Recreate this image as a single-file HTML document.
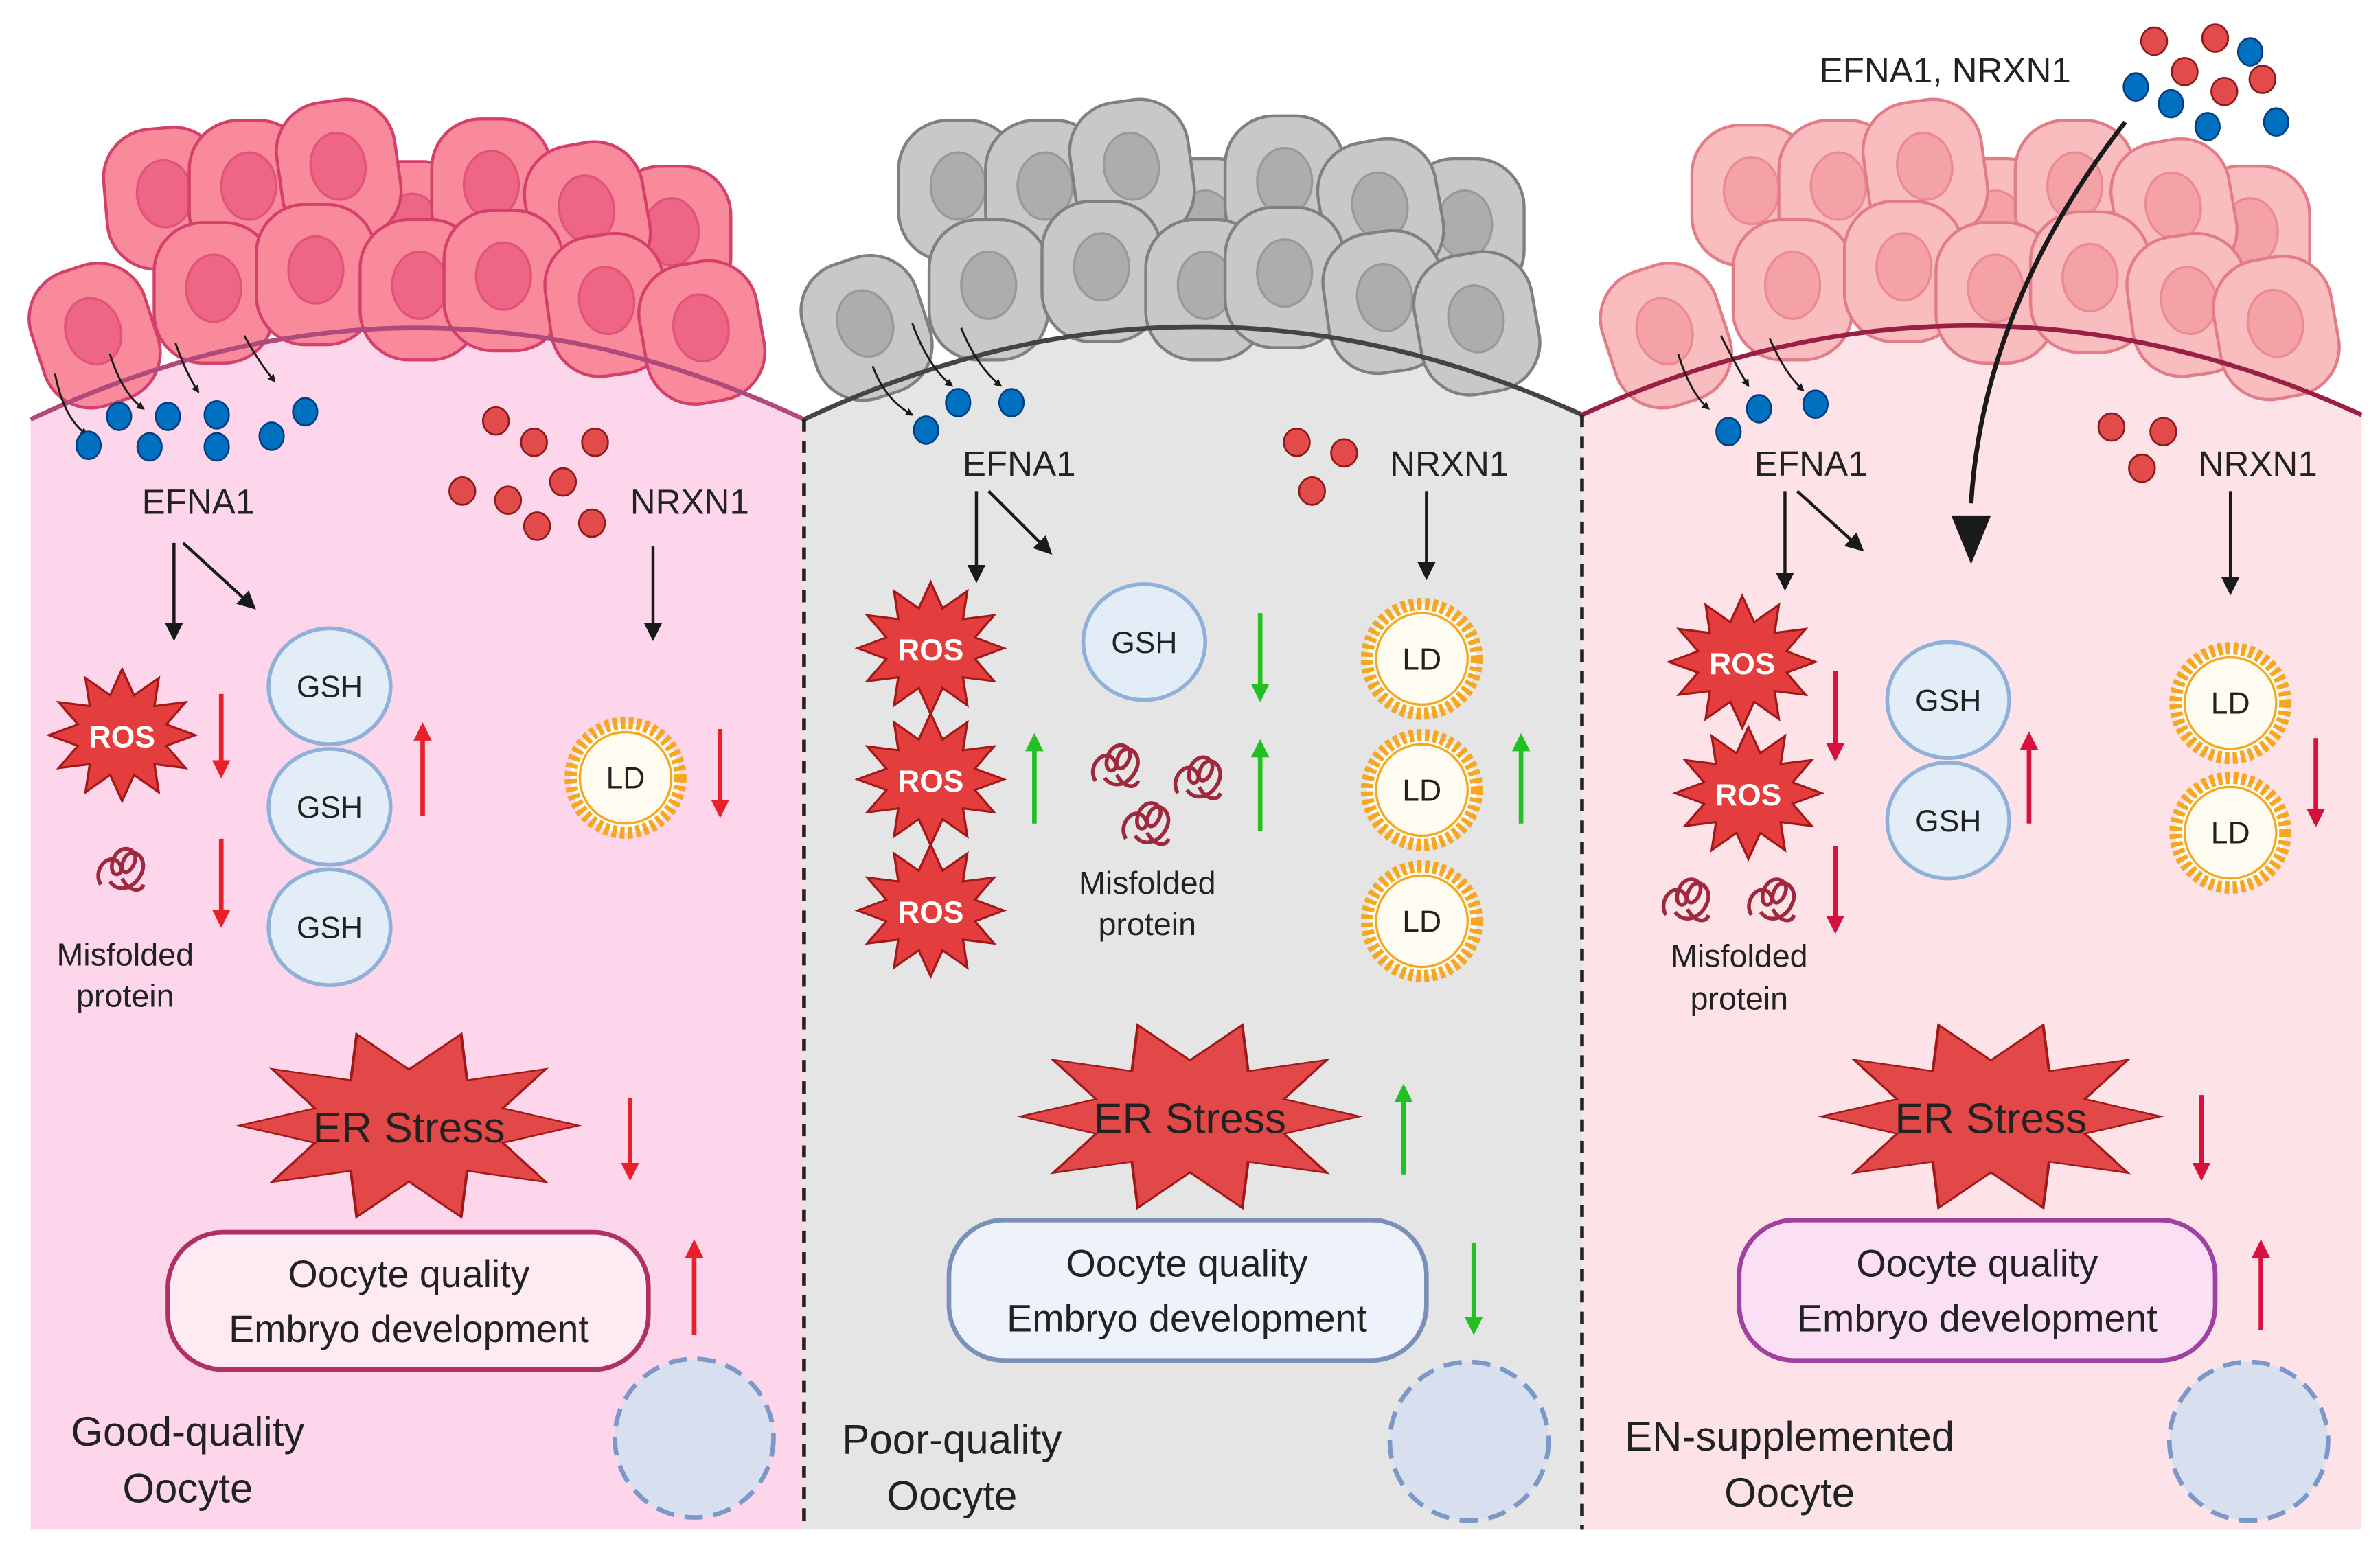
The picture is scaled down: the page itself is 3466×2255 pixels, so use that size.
<!DOCTYPE html>
<html><head><meta charset="utf-8"><style>
html,body{margin:0;padding:0;background:#fff}
svg{display:block}
text{font-family:"Liberation Sans",sans-serif;fill:#222}
</style></head><body>
<svg width="3466" height="2255" viewBox="0 0 1560 1015" xmlns="http://www.w3.org/2000/svg">
<defs>
<marker id="mk" viewBox="0 0 10 10" refX="8" refY="5" markerWidth="4" markerHeight="4" orient="auto"><path d="M0,0L10,5L0,10z" fill="#1a1a1a"/></marker>
<marker id="mks" viewBox="0 0 10 10" refX="8" refY="5" markerWidth="6" markerHeight="6" orient="auto"><path d="M0,0L10,5L0,10z" fill="#1a1a1a"/></marker>
<marker id="mr" viewBox="0 0 10 10" refX="8" refY="5" markerWidth="4" markerHeight="4" orient="auto"><path d="M0,0L10,5L0,10z" fill="#e8202a"/></marker>
<marker id="mg" viewBox="0 0 10 10" refX="8" refY="5" markerWidth="4" markerHeight="4" orient="auto"><path d="M0,0L10,5L0,10z" fill="#22c022"/></marker>
<marker id="md" viewBox="0 0 10 10" refX="8" refY="5" markerWidth="4" markerHeight="4" orient="auto"><path d="M0,0L10,5L0,10z" fill="#d8103e"/></marker>
<symbol id="cell" overflow="visible"><rect x="-39" y="-46" width="78" height="92" rx="32" stroke-width="2"/><ellipse cx="0" cy="-3" rx="18" ry="22" style="fill:var(--n);stroke:var(--ns)" stroke-width="1.5"/></symbol>
<symbol id="ros" overflow="visible"><polygon transform="scale(1,0.9)" points="48,0 29,7.8 41.6,24 21.2,21.2 24,41.6 7.8,29 0,48 -7.8,29 -24,41.6 -21.2,21.2 -41.6,24 -29,7.8 -48,0 -29,-7.8 -41.6,-24 -21.2,-21.2 -24,-41.6 -7.8,-29 0,-48 7.8,-29 24,-41.6 21.2,-21.2 41.6,-24 29,-7.8" fill="#e43d3d" stroke="#a01818" stroke-width="1.5"/></symbol>
<symbol id="er" overflow="visible"><polygon transform="scale(1.85,1.05)" points="60,0 33.3,10.8 48.5,35.3 20.6,28.3 18.5,57.1 0,35 -18.5,57.1 -20.6,28.3 -48.5,35.3 -33.3,10.8 -60,0 -33.3,-10.8 -48.5,-35.3 -20.6,-28.3 -18.5,-57.1 0,-35 18.5,-57.1 20.6,-28.3 48.5,-35.3 33.3,-10.8" fill="#e24848" stroke="#a01818" stroke-width="1"/></symbol>
<symbol id="ld" overflow="visible"><circle r="36" fill="#fffdf2" stroke="#f5a623" stroke-width="8" stroke-dasharray="3 2.2"/><circle r="30" fill="none" stroke="#f5a623" stroke-width="1.5"/></symbol>
<symbol id="gsh" overflow="visible"><ellipse rx="40" ry="38" fill="#e3edf7" stroke="#8fb0d8" stroke-width="2.5"/></symbol>
<symbol id="mis" overflow="visible"><path d="M-14,10 C-20,0 -8,-12 -2,-4 C4,4 -10,8 -6,-6 C-2,-18 12,-14 8,-4 C4,6 -4,2 2,-8 C8,-16 18,-6 12,4 C8,12 -2,16 -8,8 M0,6 C4,14 12,16 14,10" fill="none" stroke="#a0283c" stroke-width="2.5"/></symbol>
<symbol id="bd" overflow="visible"><ellipse rx="8" ry="9" fill="#0070c0" stroke="#063d80" stroke-width="1.2"/></symbol>
<symbol id="rd" overflow="visible"><ellipse rx="8.5" ry="9" fill="#e34a4a" stroke="#8b1a1a" stroke-width="1.2"/></symbol>
</defs>

<path d="M20,275 Q273,155 527,275 L527,1003 L20,1003Z" fill="#fdd6ec"/>
<path d="M527,275 Q782,155 1037,272 L1037,1003 L527,1003Z" fill="#e5e5e5"/>
<path d="M1037,272 Q1292,155 1548,272 L1548,1003 L1037,1003Z" fill="#fde3e8"/>

<g style="fill:#f88a9c;stroke:#d5406a;--n:#ef6585;--ns:#e05478">
<use href="#cell" x="108" y="130" transform="rotate(-5 108 130)"/>
<use href="#cell" x="270" y="152"/>
<use href="#cell" x="440" y="155"/>
<use href="#cell" x="163" y="125"/>
<use href="#cell" x="222" y="112" transform="rotate(-8 222 112)"/>
<use href="#cell" x="322" y="124"/>
<use href="#cell" x="385" y="140" transform="rotate(-10 385 140)"/>
<use href="#cell" x="140" y="192"/>
<use href="#cell" x="207" y="180"/>
<use href="#cell" x="275" y="190"/>
<use href="#cell" x="330" y="184"/>
<use href="#cell" x="398" y="200" transform="rotate(-8 398 200)"/>
<use href="#cell" x="460" y="218" transform="rotate(-10 460 218)"/>
<use href="#cell" x="62" y="220" transform="rotate(-18 62 220)"/>
</g>
<g style="fill:#c8c8c8;stroke:#808080;--n:#adadad;--ns:#999">
<use href="#cell" x="628" y="125"/>
<use href="#cell" x="790" y="150"/>
<use href="#cell" x="960" y="150"/>
<use href="#cell" x="685" y="125"/>
<use href="#cell" x="742" y="112" transform="rotate(-8 742 112)"/>
<use href="#cell" x="842" y="122"/>
<use href="#cell" x="905" y="138" transform="rotate(-10 905 138)"/>
<use href="#cell" x="648" y="190"/>
<use href="#cell" x="722" y="178"/>
<use href="#cell" x="790" y="190"/>
<use href="#cell" x="842" y="182"/>
<use href="#cell" x="908" y="198" transform="rotate(-8 908 198)"/>
<use href="#cell" x="968" y="212" transform="rotate(-10 968 212)"/>
<use href="#cell" x="568" y="215" transform="rotate(-18 568 215)"/>
</g>
<g style="fill:#f9bcbf;stroke:#e27d88;--n:#f5a2a6;--ns:#ea8a92">
<use href="#cell" x="1148" y="128"/>
<use href="#cell" x="1308" y="150"/>
<use href="#cell" x="1475" y="155"/>
<use href="#cell" x="1205" y="125"/>
<use href="#cell" x="1262" y="112" transform="rotate(-8 1262 112)"/>
<use href="#cell" x="1360" y="125"/>
<use href="#cell" x="1425" y="138" transform="rotate(-10 1425 138)"/>
<use href="#cell" x="1175" y="190"/>
<use href="#cell" x="1248" y="178"/>
<use href="#cell" x="1308" y="192"/>
<use href="#cell" x="1370" y="185"/>
<use href="#cell" x="1435" y="200" transform="rotate(-8 1435 200)"/>
<use href="#cell" x="1492" y="215" transform="rotate(-10 1492 215)"/>
<use href="#cell" x="1092" y="220" transform="rotate(-18 1092 220)"/>
</g>

<path d="M20,275 Q273,155 527,275" fill="none" stroke="#b04a7a" stroke-width="3"/>
<path d="M527,275 Q782,155 1037,272" fill="none" stroke="#444" stroke-width="3"/>
<path d="M1037,272 Q1292,155 1548,272" fill="none" stroke="#9a1f45" stroke-width="3"/>
<line x1="527" y1="275" x2="527" y2="1003" stroke="#222" stroke-width="2.5" stroke-dasharray="8 6"/>
<line x1="1037" y1="272" x2="1037" y2="1003" stroke="#222" stroke-width="2.5" stroke-dasharray="8 6"/>

<g fill="none" stroke="#1a1a1a" stroke-width="1.3" marker-end="url(#mk)">
<path d="M36,245 Q42,275 57,285"/><path d="M72,232 Q80,258 94,268"/><path d="M115,225 Q122,245 130,257"/><path d="M160,220 Q170,238 180,250"/>
</g>
<use href="#bd" x="58" y="292"/><use href="#bd" x="78" y="273"/><use href="#bd" x="98" y="293"/><use href="#bd" x="110" y="273"/><use href="#bd" x="142" y="272"/><use href="#bd" x="142" y="293"/><use href="#bd" x="178" y="286"/><use href="#bd" x="200" y="270"/>
<use href="#rd" x="325" y="276"/><use href="#rd" x="350" y="290"/><use href="#rd" x="390" y="290"/><use href="#rd" x="303" y="322"/><use href="#rd" x="333" y="328"/><use href="#rd" x="369" y="316"/><use href="#rd" x="352" y="345"/><use href="#rd" x="388" y="343"/>
<text x="130" y="337" font-size="23" text-anchor="middle">EFNA1</text>
<text x="452" y="337" font-size="23" text-anchor="middle">NRXN1</text>
<g stroke="#1a1a1a" stroke-width="2" marker-end="url(#mks)">
<line x1="114" y1="356" x2="114" y2="418"/><line x1="120" y1="356" x2="166" y2="398"/><line x1="428" y1="358" x2="428" y2="418"/>
</g>
<use href="#ros" x="80" y="482"/><text x="80" y="490" font-size="20" font-weight="bold" text-anchor="middle" style="fill:#fff">ROS</text>
<use href="#gsh" x="216" y="450"/><use href="#gsh" x="216" y="529"/><use href="#gsh" x="216" y="608"/>
<text x="216" y="457" font-size="20" text-anchor="middle">GSH</text><text x="216" y="536" font-size="20" text-anchor="middle">GSH</text><text x="216" y="615" font-size="20" text-anchor="middle">GSH</text>
<use href="#ld" x="410" y="510"/><text x="410" y="517" font-size="20" text-anchor="middle">LD</text>
<use href="#mis" x="80" y="570"/>
<text x="82" y="633" font-size="21" text-anchor="middle">Misfolded</text><text x="82" y="660" font-size="21" text-anchor="middle">protein</text>
<g stroke="#e8202a" stroke-width="3" marker-end="url(#mr)">
<line x1="145" y1="455" x2="145" y2="508"/><line x1="277" y1="535" x2="277" y2="476"/><line x1="472" y1="478" x2="472" y2="534"/><line x1="145" y1="550" x2="145" y2="606"/><line x1="413" y1="720" x2="413" y2="772"/><line x1="455" y1="875" x2="455" y2="815"/>
</g>
<use href="#er" x="268" y="738"/><text x="268" y="749" font-size="28" text-anchor="middle">ER Stress</text>
<rect x="110" y="808" width="315" height="90" rx="36" fill="#fdeaf3" stroke="#b03060" stroke-width="3"/>
<text x="268" y="844" font-size="25" text-anchor="middle">Oocyte quality</text><text x="268" y="880" font-size="25" text-anchor="middle">Embryo development</text>
<circle cx="455" cy="943" r="52" fill="#d8e0f0" stroke="#7b98c8" stroke-width="3" stroke-dasharray="12 7"/>
<text x="123" y="948" font-size="27" text-anchor="middle">Good-quality</text><text x="123" y="985" font-size="27" text-anchor="middle">Oocyte</text>

<g fill="none" stroke="#1a1a1a" stroke-width="1.3" marker-end="url(#mk)">
<path d="M572,240 Q580,262 598,272"/><path d="M598,212 Q608,240 624,253"/><path d="M630,215 Q640,240 656,253"/>
</g>
<use href="#bd" x="607" y="282"/><use href="#bd" x="628" y="264"/><use href="#bd" x="663" y="264"/>
<use href="#rd" x="850" y="290"/><use href="#rd" x="881" y="297"/><use href="#rd" x="860" y="322"/>
<text x="668" y="312" font-size="23" text-anchor="middle">EFNA1</text>
<text x="950" y="312" font-size="23" text-anchor="middle">NRXN1</text>
<g stroke="#1a1a1a" stroke-width="2" marker-end="url(#mks)">
<line x1="640" y1="322" x2="640" y2="380"/><line x1="648" y1="322" x2="688" y2="362"/><line x1="935" y1="322" x2="935" y2="378"/>
</g>
<use href="#ros" x="610" y="425"/><text x="610" y="433" font-size="20" font-weight="bold" text-anchor="middle" style="fill:#fff">ROS</text>
<use href="#ros" x="610" y="511"/><text x="610" y="519" font-size="20" font-weight="bold" text-anchor="middle" style="fill:#fff">ROS</text>
<use href="#ros" x="610" y="597"/><text x="610" y="605" font-size="20" font-weight="bold" text-anchor="middle" style="fill:#fff">ROS</text>
<use href="#gsh" x="750" y="421"/><text x="750" y="428" font-size="20" text-anchor="middle">GSH</text>
<use href="#mis" x="732" y="502"/><use href="#mis" x="786" y="510"/><use href="#mis" x="752" y="540"/>
<text x="752" y="586" font-size="21" text-anchor="middle">Misfolded</text><text x="752" y="613" font-size="21" text-anchor="middle">protein</text>
<use href="#ld" x="932" y="432"/><text x="932" y="439" font-size="20" text-anchor="middle">LD</text>
<use href="#ld" x="932" y="518"/><text x="932" y="525" font-size="20" text-anchor="middle">LD</text>
<use href="#ld" x="932" y="604"/><text x="932" y="611" font-size="20" text-anchor="middle">LD</text>
<g stroke="#22c022" stroke-width="3" marker-end="url(#mg)">
<line x1="678" y1="540" x2="678" y2="483"/><line x1="826" y1="402" x2="826" y2="458"/><line x1="826" y1="545" x2="826" y2="487"/><line x1="997" y1="540" x2="997" y2="483"/><line x1="920" y1="770" x2="920" y2="713"/><line x1="966" y1="815" x2="966" y2="873"/>
</g>
<use href="#er" x="780" y="732"/><text x="780" y="743" font-size="28" text-anchor="middle">ER Stress</text>
<rect x="622" y="800" width="313" height="92" rx="36" fill="#eef2fa" stroke="#7b90b8" stroke-width="3"/>
<text x="778" y="837" font-size="25" text-anchor="middle">Oocyte quality</text><text x="778" y="873" font-size="25" text-anchor="middle">Embryo development</text>
<circle cx="963" cy="945" r="52" fill="#d8e0f0" stroke="#7b98c8" stroke-width="3" stroke-dasharray="12 7"/>
<text x="624" y="953" font-size="27" text-anchor="middle">Poor-quality</text><text x="624" y="990" font-size="27" text-anchor="middle">Oocyte</text>

<text x="1275" y="54" font-size="23" text-anchor="middle">EFNA1, NRXN1</text>
<use href="#rd" x="1412" y="27"/><use href="#rd" x="1452" y="25"/><use href="#bd" x="1475" y="34"/><use href="#rd" x="1432" y="47"/><use href="#rd" x="1483" y="52"/><use href="#bd" x="1400" y="57"/><use href="#rd" x="1458" y="60"/><use href="#bd" x="1423" y="68"/><use href="#bd" x="1447" y="83"/><use href="#bd" x="1492" y="80"/>
<path d="M1393,80 Q1300,200 1292,330" fill="none" stroke="#1a1a1a" stroke-width="3"/>
<path d="M1279,338 L1305,338 L1292,370Z" fill="#1a1a1a"/>
<g fill="none" stroke="#1a1a1a" stroke-width="1.3" marker-end="url(#mk)">
<path d="M1100,232 Q1108,258 1120,268"/><path d="M1128,220 Q1138,240 1146,253"/><path d="M1160,222 Q1170,245 1182,256"/>
</g>
<use href="#bd" x="1133" y="283"/><use href="#bd" x="1153" y="268"/><use href="#bd" x="1190" y="265"/>
<use href="#rd" x="1384" y="280"/><use href="#rd" x="1418" y="283"/><use href="#rd" x="1404" y="307"/>
<text x="1187" y="312" font-size="23" text-anchor="middle">EFNA1</text>
<text x="1480" y="312" font-size="23" text-anchor="middle">NRXN1</text>
<g stroke="#1a1a1a" stroke-width="2" marker-end="url(#mks)">
<line x1="1170" y1="322" x2="1170" y2="385"/><line x1="1178" y1="322" x2="1220" y2="360"/><line x1="1462" y1="322" x2="1462" y2="388"/>
</g>
<use href="#ros" x="1142" y="434"/><text x="1142" y="442" font-size="20" font-weight="bold" text-anchor="middle" style="fill:#fff">ROS</text>
<use href="#ros" x="1146" y="520"/><text x="1146" y="528" font-size="20" font-weight="bold" text-anchor="middle" style="fill:#fff">ROS</text>
<use href="#gsh" x="1277" y="459"/><text x="1277" y="466" font-size="20" text-anchor="middle">GSH</text>
<use href="#gsh" x="1277" y="538"/><text x="1277" y="545" font-size="20" text-anchor="middle">GSH</text>
<use href="#ld" x="1462" y="461"/><text x="1462" y="468" font-size="20" text-anchor="middle">LD</text>
<use href="#ld" x="1462" y="546"/><text x="1462" y="553" font-size="20" text-anchor="middle">LD</text>
<use href="#mis" x="1106" y="590"/><use href="#mis" x="1162" y="590"/>
<text x="1140" y="634" font-size="21" text-anchor="middle">Misfolded</text><text x="1140" y="662" font-size="21" text-anchor="middle">protein</text>
<g stroke="#d8103e" stroke-width="3" marker-end="url(#md)">
<line x1="1203" y1="440" x2="1203" y2="497"/><line x1="1203" y1="555" x2="1203" y2="610"/><line x1="1330" y1="540" x2="1330" y2="482"/><line x1="1518" y1="484" x2="1518" y2="540"/><line x1="1443" y1="718" x2="1443" y2="772"/><line x1="1482" y1="872" x2="1482" y2="815"/>
</g>
<use href="#er" x="1305" y="732"/><text x="1305" y="743" font-size="28" text-anchor="middle">ER Stress</text>
<rect x="1140" y="800" width="312" height="92" rx="36" fill="#fbe0f5" stroke="#a040a0" stroke-width="3"/>
<text x="1296" y="837" font-size="25" text-anchor="middle">Oocyte quality</text><text x="1296" y="873" font-size="25" text-anchor="middle">Embryo development</text>
<circle cx="1474" cy="945" r="52" fill="#d8e0f0" stroke="#7b98c8" stroke-width="3" stroke-dasharray="12 7"/>
<text x="1173" y="951" font-size="27" text-anchor="middle">EN-supplemented</text><text x="1173" y="988" font-size="27" text-anchor="middle">Oocyte</text>
</svg>
</body></html>
